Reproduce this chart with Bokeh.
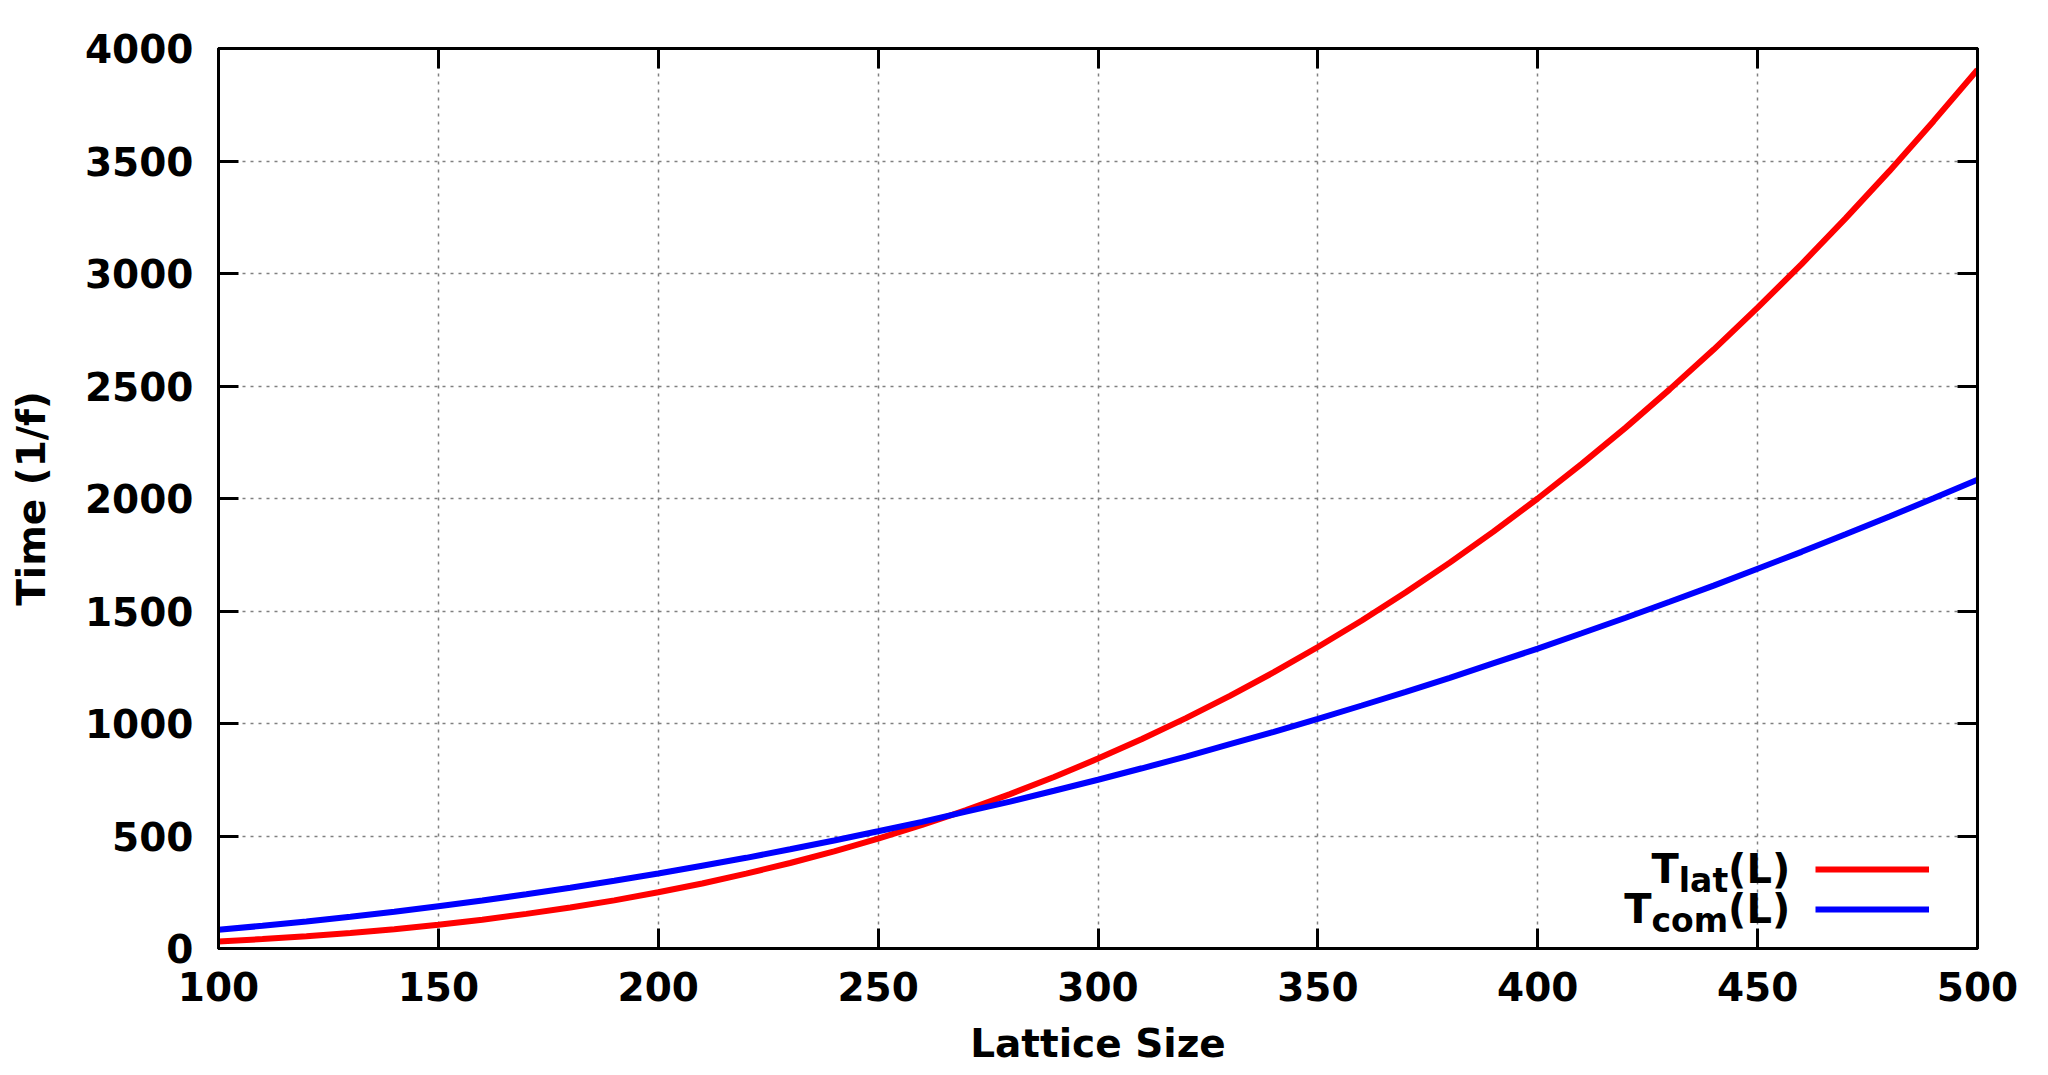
from bokeh.plotting import figure
from bokeh.models import (LinearAxis, FixedTicker, Label, Legend, LegendItem)
from bokeh.embed import file_html
from bokeh.resources import INLINE

# ---- data ----
lattice_size = [100, 110, 120, 130, 140, 150, 160, 170, 180, 190, 200,
                210, 220, 230, 240, 250, 260, 270, 280, 290, 300,
                310, 320, 330, 340, 350, 360, 370, 380, 390, 400,
                410, 420, 430, 440, 450, 460, 470, 480, 490, 500]
t_lat = [31, 42, 54, 69, 86, 106, 128, 154, 182, 214, 250,
         289, 333, 380, 432, 488, 549, 615, 686, 762, 844,
         931, 1024, 1123, 1228, 1340, 1458, 1583, 1715, 1854, 2000,
         2154, 2315, 2485, 2662, 2848, 3042, 3245, 3456, 3677, 3906]
t_com = [83, 101, 120, 141, 163, 188, 213, 241, 270, 301, 333,
         368, 403, 441, 480, 521, 563, 608, 653, 701, 750,
         801, 853, 908, 963, 1021, 1080, 1141, 1203, 1268, 1333,
         1401, 1470, 1541, 1613, 1688, 1763, 1841, 1920, 2001, 2083]
x_ticks = [100, 150, 200, 250, 300, 350, 400, 450, 500]
y_ticks = [0, 500, 1000, 1500, 2000, 2500, 3000, 3500, 4000]
x_label = "Lattice Size"
y_label = "Time (1/f)"

FONT = "DejaVu Sans"
FS = "39px"

p = figure(width=2032, height=1075, frame_width=1759, frame_height=900,
           x_range=(100, 500), y_range=(0, 4000),
           output_backend="svg", toolbar_location=None,
           min_border_left=218, min_border_top=48,
           min_border_right=55, min_border_bottom=127)
p.background_fill_color = "white"
p.border_fill_color = "white"
p.outline_line_color = "black"
p.outline_line_width = 3

def style_axis(ax):
    ax.axis_line_width = 3
    ax.axis_line_color = "black"
    ax.major_tick_in = 20
    ax.major_tick_out = 0
    ax.major_tick_line_width = 3
    ax.major_tick_line_color = "black"
    ax.minor_tick_line_color = None
    ax.major_label_text_font = FONT
    ax.major_label_text_font_style = "bold"
    ax.major_label_text_color = "black"
    ax.major_label_text_font_size = FS

p.xaxis.ticker = FixedTicker(ticks=x_ticks)
p.yaxis.ticker = FixedTicker(ticks=y_ticks)
for ax in p.xaxis + p.yaxis:
    style_axis(ax)
    ax.axis_label_text_font = FONT
    ax.axis_label_text_font_style = "bold"
    ax.axis_label_text_font_size = FS
    ax.axis_label_text_color = "black"

p.xaxis.axis_label = x_label
p.yaxis.axis_label = y_label
p.xaxis.major_label_standoff = 23
p.xaxis.axis_label_standoff = 17
p.yaxis.major_label_standoff = 25
p.yaxis.axis_label_standoff = 28

# mirrored tick marks (no labels) on top and right
top_ax = LinearAxis(ticker=FixedTicker(ticks=x_ticks),
                    major_label_overrides={t: "" for t in x_ticks})
right_ax = LinearAxis(ticker=FixedTicker(ticks=y_ticks),
                      major_label_overrides={t: "" for t in y_ticks})
style_axis(top_ax)
style_axis(right_ax)
top_ax.major_label_standoff = 0
right_ax.major_label_standoff = 0
p.add_layout(top_ax, "above")
p.add_layout(right_ax, "right")

p.xgrid.ticker = FixedTicker(ticks=x_ticks)
p.ygrid.ticker = FixedTicker(ticks=y_ticks)
for g in (p.xgrid[0], p.ygrid[0]):
    g.grid_line_color = "#808080"
    g.grid_line_width = 1.5
    g.grid_line_dash = "3 5"

r_lat = p.line(lattice_size, t_lat, line_color="#ff0000", line_width=6)
r_com = p.line(lattice_size, t_com, line_color="#0000ff", line_width=6)

# legend samples
legend = Legend(items=[LegendItem(label=" ", renderers=[r_lat]),
                       LegendItem(label=" ", renderers=[r_com])],
                location=(1597, 19), orientation="vertical",
                glyph_width=114, glyph_height=40, label_width=0,
                label_height=0, label_standoff=0, label_text_font_size="1px",
                spacing=0, padding=0, margin=0,
                background_fill_alpha=0, border_line_color=None)
p.add_layout(legend, "center")

# legend texts (with subscripts)
ax_ = 457.4
def lab(text, y, off, size):
    p.add_layout(Label(x=ax_, y=y, x_units="data", y_units="data", text=text,
                       x_offset=off, text_font=FONT, text_font_style="bold",
                       text_font_size=size, text_color="black",
                       text_align="right", text_baseline="alphabetic"))

lab("(L)", 355, 0, "40px")
lab("lat", 302, -62, "33px")
lab("T", 355, -111.4, "40px")
lab("(L)", 177, 0, "40px")
lab("com", 124, -62, "33px")
lab("T", 177, -138.6, "40px")

open("out.html", "w").write(file_html(p, INLINE))
